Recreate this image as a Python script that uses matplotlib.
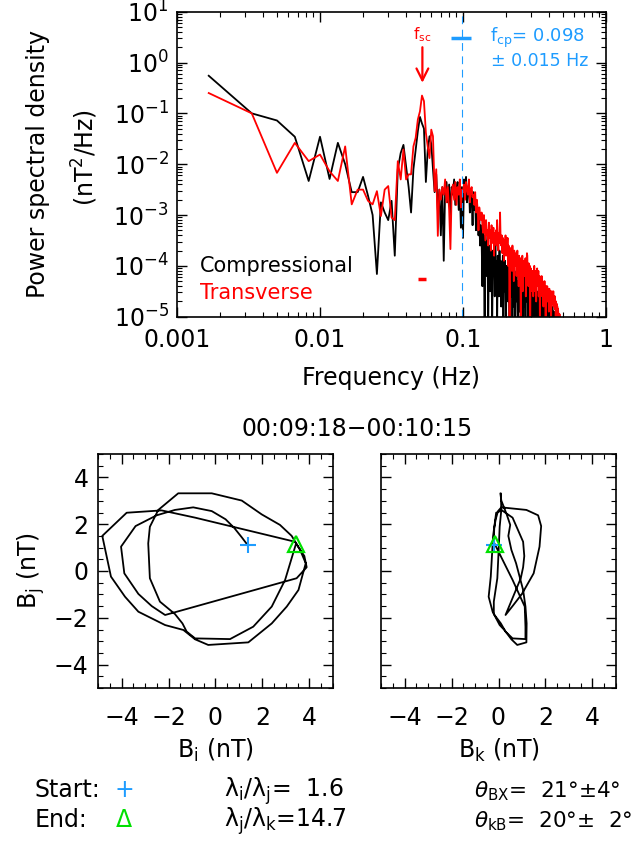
import numpy as np
import matplotlib
matplotlib.use("Agg")
import matplotlib.pyplot as plt
from matplotlib.ticker import FixedLocator, MultipleLocator, NullFormatter, LogLocator

plt.rcParams['font.family'] = ['DejaVu Sans']
plt.rcParams['mathtext.fontset'] = 'dejavusans'
plt.rcParams['font.size'] = 17

BLUE = '#1e9cff'
GREEN = '#00e000'

# power spectra, log10(PSD [nT^2/Hz]), one value per FFT bin
psd_comp_log = [
    -0.26, -1.00, -1.14, -1.46, -2.33, -1.46, -2.29, -1.58, -2.00, -2.55,
    -2.55, -2.25, -2.62, -3.00, -4.16, -2.75, -2.95, -3.10, -2.72, -3.80,
    -2.10, -1.78, -1.62, -2.05, -2.45, -2.95, -2.10, -1.72, -1.35, -1.07,
    -1.20, -1.30, -2.35, -1.72, -1.45, -1.60, -2.10, -2.55, -2.20, -2.90,
    -2.50, -3.40, -2.45, -3.90, -2.50, -2.35, -2.75, -2.40, -3.00, -2.45,
    -2.60, -2.30, -2.80, -2.50, -2.35, -2.90, -2.50, -3.25, -2.45, -3.45,
    -2.30, -2.60, -2.25, -2.75, -2.50, -2.40, -2.95, -2.60, -2.70, -3.20,
    -2.55, -2.90, -2.75, -3.30, -2.80, -3.00, -3.40, -3.10, -3.60, -3.20,
    -3.50, -4.40, -3.30, -3.80, -5.20, -3.40, -3.70, -4.20, -3.50, -5.30,
    -3.60, -3.90, -4.50, -3.50, -4.00, -5.20, -3.70, -4.10, -3.80, -4.60,
    -3.60, -4.30, -3.90, -5.10, -3.80, -4.20, -4.60, -3.70, -4.40, -3.90,
    -4.80, -4.00, -4.30, -3.80, -5.20, -4.10, -4.50, -3.90, -4.30, -5.00,
    -4.00, -4.40, -4.10, -4.70, -3.90, -4.50, -5.30, -4.20, -4.40, -4.00,
    -4.60, -4.20, -5.00, -4.30, -4.10, -4.80, -4.40, -4.20, -5.20, -4.30,
    -4.50, -4.10, -4.70, -4.40, -5.30, -4.30, -4.60, -4.20, -4.90, -4.40,
    -4.30, -5.10, -4.50, -4.20, -4.70, -4.40, -5.40, -4.30, -4.60, -4.50,
    -4.80, -4.20, -4.50, -5.00, -4.30, -4.70, -4.40, -3.85, -4.60, -4.50,
    -5.20, -4.40, -4.60, -4.30, -4.90, -4.50, -4.40, -5.30, -4.60, -4.50,
    -4.70, -4.40, -5.00, -4.60, -4.50, -4.80, -5.40, -4.50, -4.70, -4.60,
    -4.90, -4.50, -4.80, -5.20, -4.60, -4.70, -4.50, -5.00, -4.80, -4.60,
    -4.70, -5.30, -4.60, -4.90, -4.70, -4.50, -5.10, -4.80, -4.60, -4.90,
    -5.00, -4.70, -4.80, -5.40, -4.70, -4.90, -4.60, -5.00, -4.80, -4.90,
    -5.20, -4.80, -4.70, -5.00, -4.90, -4.60, -5.30, -4.80, -4.70, -4.90,
    -5.00, -4.60, -4.80, -5.10, -4.90, -4.70, -4.50, -5.20, -4.80, -4.90,
    -4.70, -5.00, -4.80, -4.60, -5.30, -4.90, -4.80, -5.00, -4.90, -5.10,
    -4.90, -5.20, -4.80, -5.00, -5.10, -4.90, -5.40, -5.00, -4.90, -5.20,
    -5.00, -5.10, -5.30, -4.95, -5.20, -5.10, -5.30, -5.00, -5.20, -5.40,
    -5.10, -5.30, -5.20, -5.50, -5.20, -5.30, -5.40, -5.20, -5.50, -5.30,
    -5.40, -5.30, -5.60, -5.40, -5.50, -5.40, -5.70, -5.50, -5.60, -5.70,
    -5.60, -5.80, -5.70, -5.60, -5.90, -5.70, -5.80, -5.90, -5.80, -6.00,
]
psd_trans_log = [
    -0.60, -1.00, -2.17, -1.58, -1.94, -1.81, -2.14, -2.33, -1.65, -2.79,
    -2.50, -2.50, -2.72, -2.79, -2.53, -3.02, -2.50, -2.43, -3.05, -3.10,
    -1.94, -2.30, -1.71, -2.30, -2.20, -2.20, -1.65, -1.48, -1.12, -0.96,
    -0.65, -0.76, -1.38, -1.65, -1.88, -1.32, -1.45, -2.53, -2.10, -3.41,
    -2.50, -2.70, -2.45, -2.60, -2.30, -2.75, -2.45, -2.90, -3.67, -2.55,
    -2.40, -2.70, -2.35, -2.80, -2.45, -2.60, -2.30, -2.85, -2.50, -2.55,
    -2.40, -2.70, -2.35, -2.50, -2.60, -2.30, -2.75, -2.50, -2.45, -2.65,
    -2.60, -2.80, -2.55, -2.95, -2.70, -2.90, -3.30, -2.85, -3.00, -3.10,
    -2.95, -3.20, -3.35, -3.00, -3.25, -3.50, -3.10, -3.40, -3.30, -3.60,
    -3.15, -3.45, -3.30, -3.70, -3.20, -3.55, -3.40, -3.25, -3.80, -3.35,
    -3.50, -3.30, -3.60, -3.10, -3.45, -3.70, -3.35, -3.55, -2.95, -3.50,
    -3.60, -3.40, -3.75, -3.45, -3.60, -3.90, -3.50, -3.65, -3.40, -3.80,
    -3.55, -3.70, -3.45, -4.00, -3.60, -3.75, -5.20, -3.90, -3.65, -3.80,
    -3.70, -4.10, -3.60, -3.85, -3.75, -4.30, -3.70, -3.90, -3.80, -4.00,
    -3.75, -4.20, -3.85, -3.70, -4.00, -3.90, -4.40, -3.80, -3.95, -4.10,
    -3.85, -5.10, -4.30, -3.90, -4.10, -3.80, -4.50, -3.95, -4.05, -3.90,
    -4.20, -3.95, -4.10, -3.85, -4.60, -3.90, -4.00, -3.75, -3.80, -4.20,
    -4.00, -4.40, -3.95, -4.10, -4.30, -4.00, -5.30, -4.15, -4.05, -4.30,
    -4.10, -4.25, -4.50, -4.10, -4.20, -4.60, -4.15, -4.30, -4.00, -4.35,
    -4.20, -4.50, -4.10, -4.25, -4.70, -4.15, -4.30, -4.05, -4.40, -4.20,
    -4.30, -4.10, -4.60, -4.25, -4.35, -4.20, -5.20, -4.30, -4.25, -4.45,
    -4.30, -4.50, -4.20, -4.40, -4.60, -4.30, -4.45, -4.35, -4.80, -4.40,
    -4.35, -4.50, -4.30, -4.60, -4.45, -4.40, -5.40, -4.50, -4.40, -4.55,
    -4.45, -4.60, -4.40, -4.70, -4.50, -4.45, -4.60, -4.55, -4.90, -4.50,
    -4.45, -4.60, -4.50, -4.70, -4.55, -4.50, -4.65, -5.10, -4.60, -4.55,
    -4.50, -4.70, -4.60, -4.55, -4.75, -4.60, -4.50, -4.80, -4.65, -4.60,
    -4.70, -4.65, -4.85, -4.60, -4.75, -4.70, -5.20, -4.70, -4.80, -4.75,
    -4.80, -4.75, -4.90, -4.80, -4.85, -5.30, -4.85, -4.90, -4.95, -5.00,
    -4.95, -5.00, -5.10, -4.95, -5.05, -5.20, -5.10, -5.30, -5.20, -5.40,
    -5.30, -5.50, -5.40, -5.60, -5.50, -5.70, -5.60, -5.80, -5.70, -5.90,
]
# FFT bins of a 600 s window
freq = np.arange(1, len(psd_comp_log) + 1) / 600.0

fsc, fsc_err = 0.052, 0.0033
fcp, fcp_err = 0.098, 0.015

# hodogram in minimum variance frame (nT), 1 s samples
b_i = [1.37, 1.12, 0.80, 0.43, -0.16, -0.95, -1.73, -2.51, -3.41, -4.03,
       -3.89, -3.29, -2.72, -2.15, 3.46, 3.89, 3.79, 3.39, -0.87, -2.30,
       -3.79, -4.83, -4.46, -3.86, -3.29, -2.15, -1.37, -0.87, -0.31, 1.40,
       2.40, 3.04, 3.54, 3.85, 3.61, 3.25, 2.75, 1.97, 1.12, -0.16,
       -1.59, -2.44, -2.80, -2.87, -2.80, -2.37, -1.73, -1.41, -1.23, -0.87,
       0.62, 1.61, 2.40, 2.97, 3.43]
b_j = [1.11, 1.44, 1.84, 2.21, 2.56, 2.72, 2.61, 2.38, 1.92, 1.04,
       -0.10, -0.98, -1.50, -1.88, -0.31, 0.16, 0.64, 1.25, 2.28, 2.59,
       2.49, 1.50, -0.24, -1.10, -1.74, -2.31, -2.52, -2.92, -3.16, -3.05,
       -2.24, -1.52, -0.81, 0.33, 0.90, 1.50, 1.97, 2.42, 3.01, 3.32,
       3.32, 2.61, 1.89, 1.18, -0.31, -1.31, -1.84, -2.24, -2.59, -2.88,
       -2.91, -2.38, -1.52, -0.38, 1.15]
b_k = [-0.19, -0.20, -0.18, -0.12, -0.02, 0.12, 1.19, 1.69, 1.82, 1.75,
       1.50, 1.00, 0.60, 0.30, 0.95, 1.05, 1.10, 1.05, 0.60, 0.15,
       -0.10, -0.23, -0.33, -0.42, -0.25, 0.05, 0.25, 0.55, 0.80, 1.19,
       1.20, 1.15, 1.05, 0.75, 0.55, 0.42, 0.50, 0.35, 0.12, 0.08,
       0.10, 0.12, 0.05, 0.02, -0.05, -0.20, -0.20, 0.10, 0.30, 0.60,
       1.15, 1.15, 1.12, 0.60, -0.16]

interval = "00:09:18\u221200:10:15"
ratio_ij, ratio_jk = "1.6", "14.7"
theta_bx, theta_kb = "21\u00b0\u00b14\u00b0", "20\u00b0\u00b1  2\u00b0"

W, H = 640, 844


def box(x0, y0, x1, y1):
    return [x0 / W, 1 - y1 / H, (x1 - x0) / W, (y1 - y0) / H]


def style_axes(a):
    for s in a.spines.values():
        s.set_linewidth(1.2)
    a.tick_params(which='both', direction='in', top=True, right=True)
    a.tick_params(which='major', length=7, width=1.0)
    a.tick_params(which='minor', length=3.5, width=0.8)


fig = plt.figure(figsize=(6.4, 8.44), dpi=100)

# ---- spectrum panel
ax = fig.add_axes(box(177, 11.7, 606, 316.7))
ax.set_xscale('log')
ax.set_yscale('log')
ax.plot(freq, 10 ** np.array(psd_comp_log), color='k', lw=1.3)
ax.plot(freq, 10 ** np.array(psd_trans_log), color='red', lw=1.3)
ax.set_xlim(1e-3, 1)
ax.set_ylim(1e-5, 10)
style_axes(ax)
ax.tick_params(axis='x', pad=8)
ax.tick_params(axis='y', pad=6)
ax.xaxis.set_major_locator(FixedLocator([1e-3, 1e-2, 1e-1, 1]))
ax.set_xticklabels(['0.001', '0.01', '0.1', '1'])
ax.xaxis.set_minor_locator(LogLocator(base=10, subs=np.arange(2, 10), numticks=20))
ax.xaxis.set_minor_formatter(NullFormatter())
ax.yaxis.set_major_locator(LogLocator(base=10, numticks=20))
ax.yaxis.set_minor_locator(LogLocator(base=10, subs=np.arange(2, 10), numticks=20))
ax.yaxis.set_minor_formatter(NullFormatter())

ax.axvline(fcp, color=BLUE, lw=0.8, dashes=(7, 5))
ax.plot([fcp - fcp_err, fcp + fcp_err], [3.0, 3.0], color=BLUE, lw=2.5, solid_capstyle='butt')
ax.plot([fsc - fsc_err, fsc + fsc_err], [5.4e-5, 5.4e-5], color='red', lw=2.5, solid_capstyle='butt')
ax.annotate('', xy=(fsc, 0.40), xytext=(fsc, 2.0),
            arrowprops=dict(arrowstyle='->,head_length=0.5,head_width=0.25',
                            color='red', lw=1.6, shrinkA=0, shrinkB=0))
ax.text(fsc, 3.6, r'f$_{\rm sc}$', color='red', ha='center', va='center', fontsize=11)
ax.text(0.1545, 3.0, r'f$_{\rm cp}$= %.3f' % fcp, color=BLUE, va='center', fontsize=13)
ax.text(0.157, 1.08, '\u00b1 %.3f Hz' % fcp_err, color=BLUE, va='center', fontsize=12.5)
ax.text(0.0536, 0.166, 'Compressional', transform=ax.transAxes, va='center',
        color='k', fontsize=15)
ax.text(0.0536, 0.078, 'Transverse', transform=ax.transAxes, va='center',
        color='red', fontsize=15)

fig.text(38 / W, 1 - 164 / H, 'Power spectral density', rotation=90, ha='center', va='center')
fig.text(85 / W, 1 - 158 / H, r'(nT$^2$/Hz)', rotation=90, ha='center', va='center')
fig.text(391.5 / W, 1 - 378 / H, 'Frequency (Hz)', ha='center', va='center')

# ---- hodograms
ax1 = fig.add_axes(box(98.3, 454, 332.7, 688))
ax2 = fig.add_axes(box(381.3, 454, 615.7, 688))
for a, xs in [(ax1, b_i), (ax2, b_k)]:
    a.plot(xs, b_j, color='k', lw=1.3)
    a.plot(xs[0], b_j[0], '+', color=BLUE, ms=11, mew=1.5)
    a.plot(xs[-1], b_j[-1], '^', mfc='none', mec=GREEN, ms=11, mew=1.6)
    a.set_xlim(-5, 5)
    a.set_ylim(-5, 5)
    style_axes(a)
    a.xaxis.set_major_locator(MultipleLocator(2))
    a.xaxis.set_minor_locator(MultipleLocator(0.5))
    a.yaxis.set_major_locator(MultipleLocator(2))
    a.yaxis.set_minor_locator(MultipleLocator(0.5))
    a.tick_params(axis='x', pad=13)
    a.tick_params(axis='y', pad=7)
ax2.tick_params(labelleft=False)

fig.text(357 / W, 1 - 429 / H, interval, ha='center', va='center')
fig.text(215.5 / W, 1 - 750 / H, r'B$_{\rm i}$ (nT)', ha='center', va='center')
fig.text(498.5 / W, 1 - 750 / H, r'B$_{\rm k}$ (nT)', ha='center', va='center')
fig.text(31 / W, 1 - 571 / H, r'B$_{\rm j}$ (nT)', rotation=90, ha='center', va='center')

# ---- summary text
y1 = 1 - 797 / H
y2 = 1 - 827 / H
fig.text(35 / W, y1, 'Start:', va='baseline')
fig.text(124 / W, y1, '+', color=BLUE, ha='center', va='baseline')
fig.text(35 / W, y2, 'End:', va='baseline')
fig.text(124 / W, y2, '\u0394', color=GREEN, ha='center', va='baseline')
fig.text(224 / W, y1, r'λ$_{\rm i}$/λ$_{\rm j}$=  ' + ratio_ij, va='baseline')
fig.text(224 / W, y2, r'λ$_{\rm j}$/λ$_{\rm k}$=' + ratio_jk, va='baseline')
fig.text(474 / W, y1, r'$\theta_{\rm BX}$=  ' + theta_bx, va='baseline', fontsize=15.5)
fig.text(474 / W, y2, r'$\theta_{\rm kB}$=  ' + theta_kb, va='baseline', fontsize=15.5)

fig.savefig('out.png', dpi=100)
